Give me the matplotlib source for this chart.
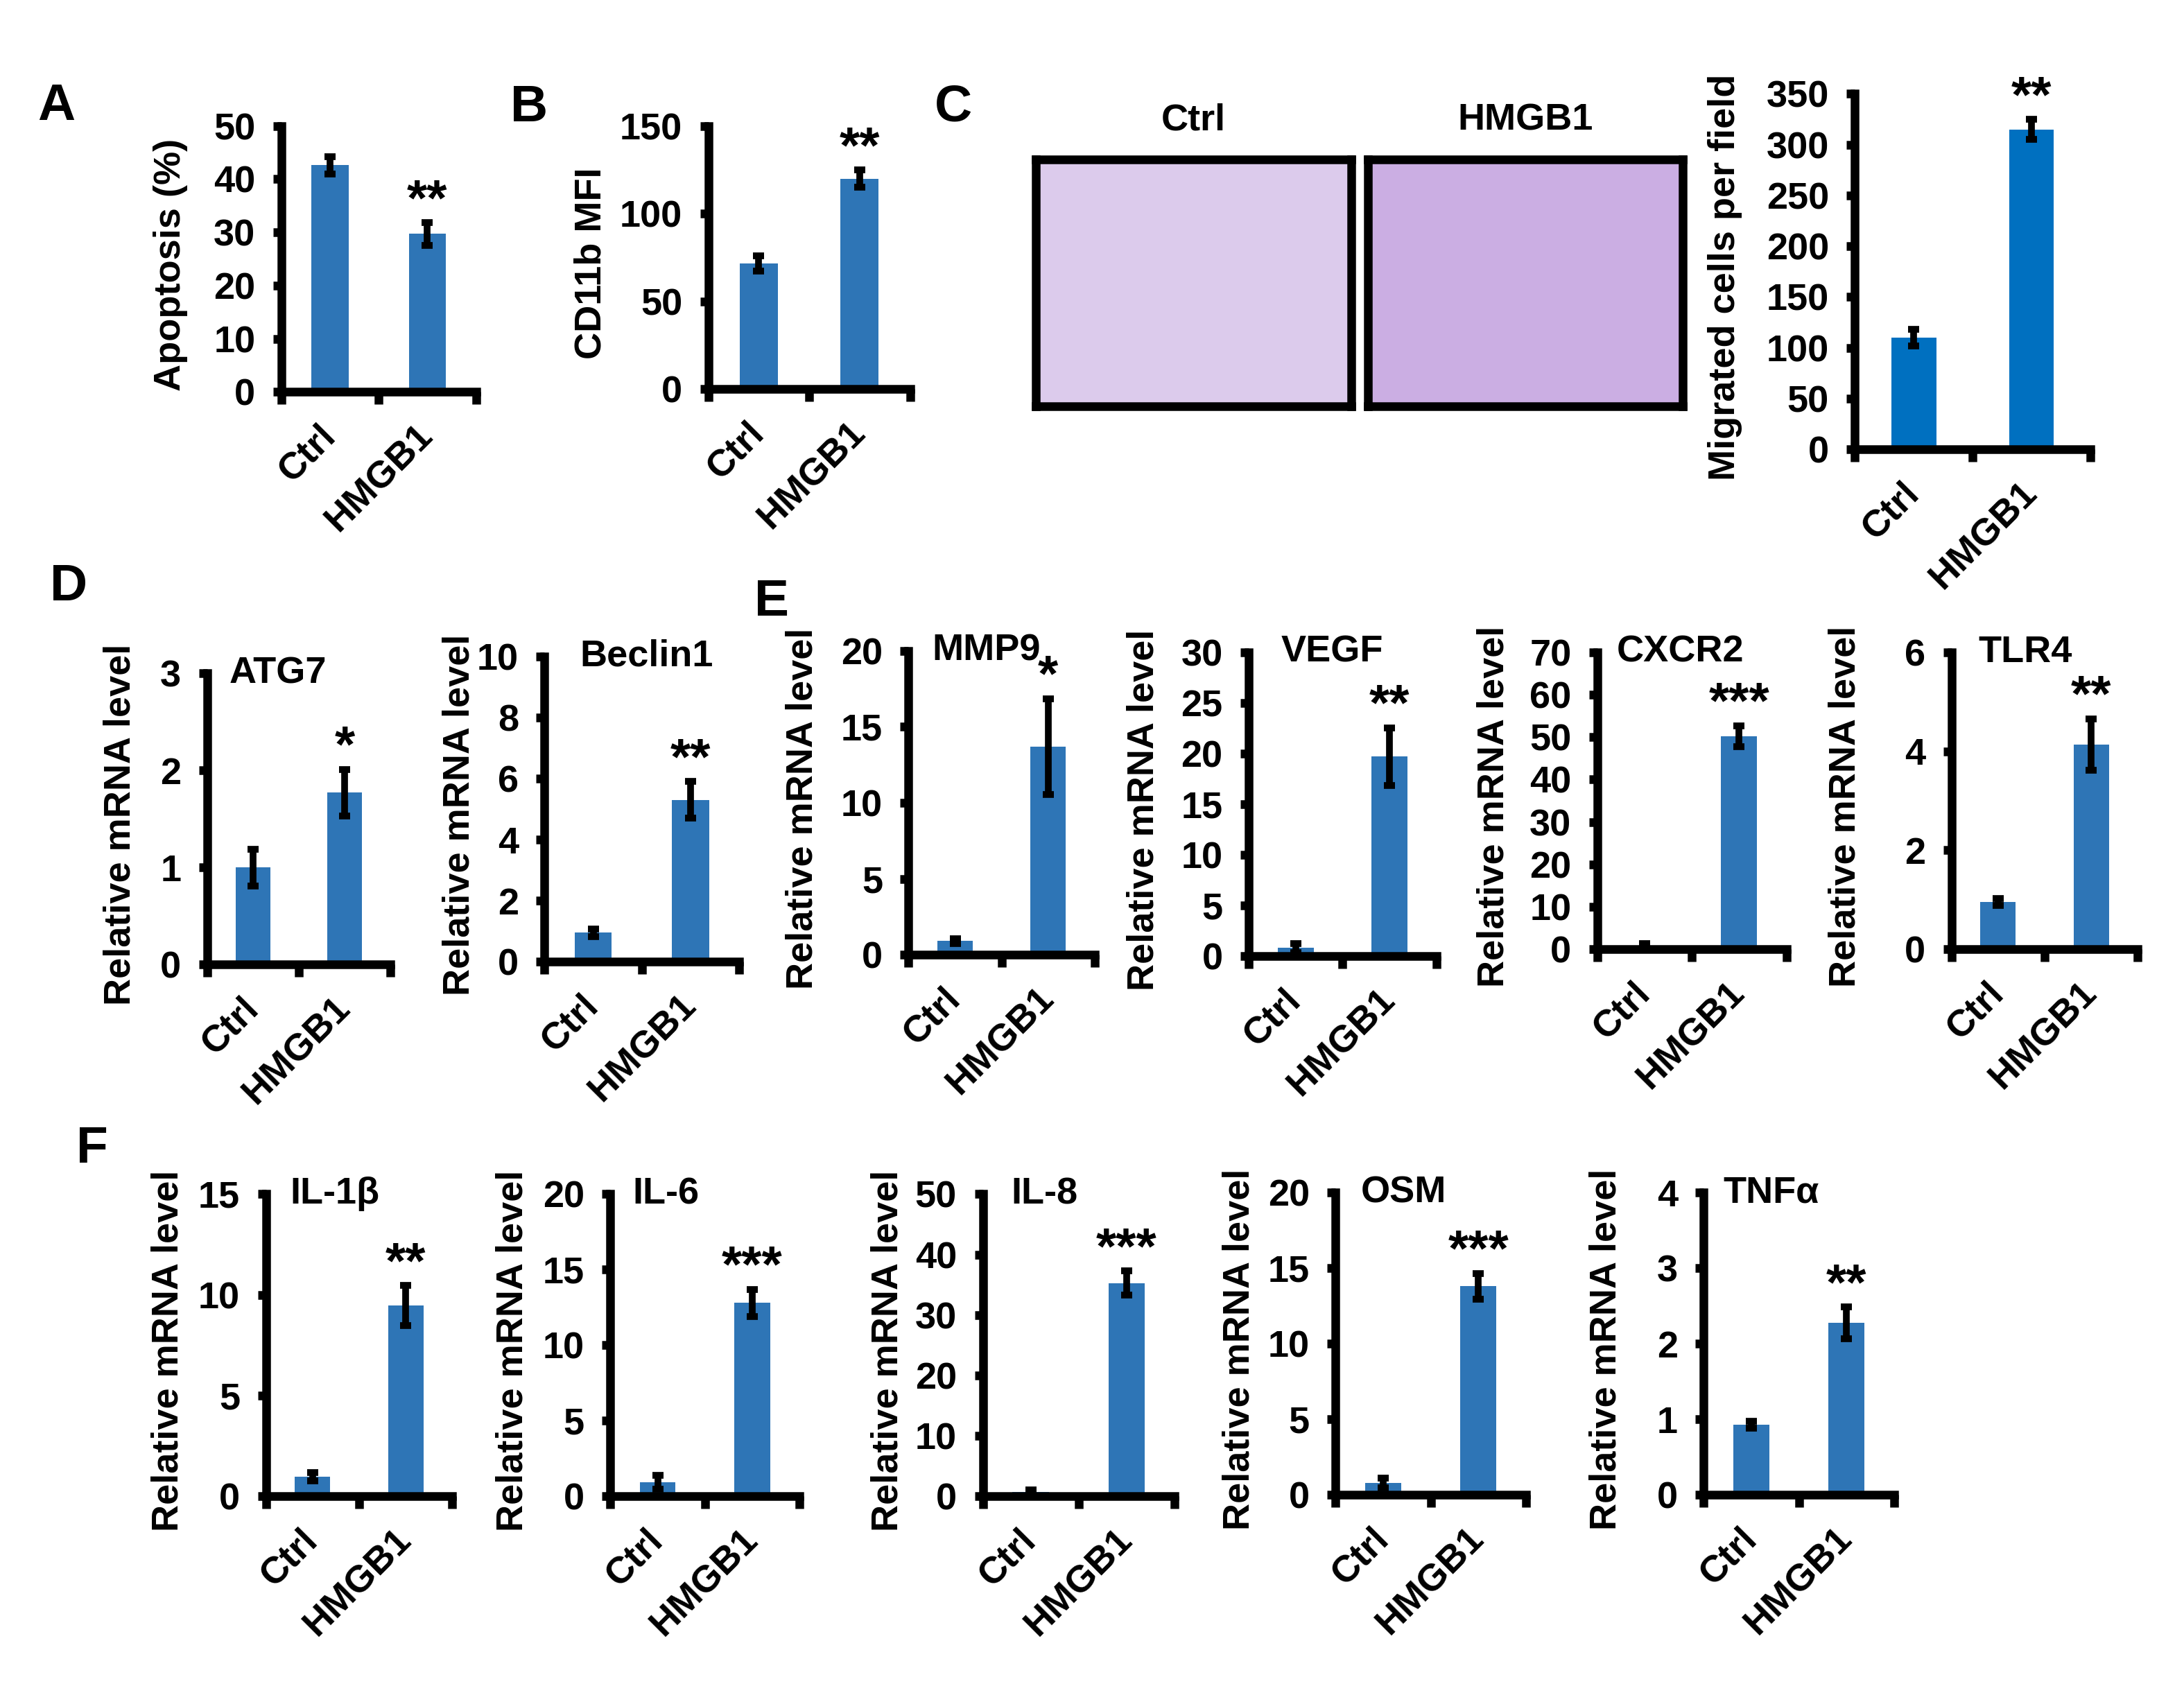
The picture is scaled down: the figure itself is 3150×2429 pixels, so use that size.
import numpy as np
import matplotlib
matplotlib.use('Agg')
import matplotlib.pyplot as plt

plt.rcParams['font.family'] = ['Liberation Sans', 'DejaVu Sans']
plt.rcParams['font.weight'] = 'bold'

groups = ['Ctrl', 'HMGB1']

# Panel A-C
apoptosis = [42.6, 29.7]
apoptosis_err = [1.6, 2.1]
cd11b = [71.6, 120]
cd11b_err = [4.3, 4.8]
migrated = [110, 315]
migrated_err = [8, 10]

# Panels D-F: relative mRNA levels
genes = ['ATG7', 'Beclin1', 'MMP9', 'VEGF', 'CXCR2', 'TLR4',
         'IL-1β', 'IL-6', 'IL-8', 'OSM', 'TNFα']
ctrl_mean = [1.0, 0.95, 0.9, 0.8, 0.8, 0.95, 0.97, 0.93, 0.7, 0.8, 0.93]
ctrl_err = [0.19, 0.13, 0.15, 0.45, 0.5, 0.07, 0.2, 0.45, 0.4, 0.3, 0.05]
hmgb1_mean = [1.77, 5.3, 13.7, 19.7, 50.2, 4.14, 9.47, 12.8, 35.3, 13.8, 2.28]
hmgb1_err = [0.24, 0.6, 3.15, 2.85, 2.5, 0.52, 1.0, 0.9, 2.0, 0.87, 0.21]
stars = ['*', '**', '*', '**', '***', '**', '**', '***', '***', '***', '**']
ymax = [3, 10, 20, 30, 70, 6, 15, 20, 50, 20, 4]
ystep = [1, 2, 5, 5, 10, 2, 5, 5, 10, 5, 1]

# layout, in pixels of a 1560 x 1203 sheet: left, right, top, zero
W, H = 1560.0, 1203.0
gene_boxes = [(148, 279, 481, 689), (389, 528, 469, 687),
              (649, 782, 465, 682), (892, 1026, 466, 683),
              (1141, 1276, 466, 678), (1394, 1527, 466, 678),
              (190, 323, 853, 1069), (436, 571, 853, 1069),
              (702, 839, 853, 1069), (954, 1090, 852, 1068),
              (1217, 1353, 852, 1068)]
gene_label_x = [86, 328, 573, 817, 1067, 1318, 120, 366, 634, 885, 1147]
gene_title_dx = [16, 25, 17, 23, 14, 19, 17, 16, 20, 18, 14]

bar_blue = '#2E75B6'
bar_blue_c = '#0070C0'
LW = 4.5

fig = plt.figure(figsize=(15.75, 12.145), dpi=200)


def bar_panel(box, means, errs, top, step, ylabel, label_x, star, color=bar_blue):
    left, right, ytop, zero = box
    ax = fig.add_axes([left / W, 1 - zero / H, (right - left) / W, (zero - ytop) / H])
    x = [0.5, 1.5]
    ax.bar(x, means, width=0.38, color=color, zorder=2)
    ax.errorbar(x, means, yerr=errs, fmt='none', ecolor='black',
                elinewidth=3.5, capsize=3, capthick=3.5, zorder=3)
    ax.set_xlim(0, 2)
    ax.set_ylim(0, top)
    ax.set_yticks(np.arange(0, top + step / 2, step))
    ax.set_xticks(x)
    ax.set_xticklabels(groups, rotation=45, ha='right', va='center',
                       rotation_mode='anchor')
    ax.set_xticks([0, 1, 2], minor=True)
    ax.tick_params(axis='x', which='major', length=0, pad=20, labelsize=19.5)
    ax.tick_params(axis='x', which='minor', length=6.5, width=LW, direction='out')
    ax.tick_params(axis='y', length=4.5, width=LW, pad=9, labelsize=19.5)
    for s in ['top', 'right']:
        ax.spines[s].set_visible(False)
    for s in ['left', 'bottom']:
        ax.spines[s].set_linewidth(LW)
    ax.set_ylabel(ylabel, fontsize=19.5, fontweight='bold', va='center')
    ax.yaxis.set_label_coords(label_x / W, 1 - ((ytop + zero) / 2 + 4) / H,
                              transform=fig.transFigure)
    ax.annotate(star, xy=(1.5, means[1] + errs[1]), xytext=(0, 11),
                textcoords='offset points', ha='center', va='center',
                fontsize=27, fontweight='bold')
    return ax


# A, B, C bar charts
bar_panel((201, 340, 90, 280), apoptosis, apoptosis_err, 50, 10,
          'Apoptosis (%)', 122, '**')
bar_panel((506, 650, 90, 278), cd11b, cd11b_err, 150, 50,
          'CD11b MFI', 422, '**')
bar_panel((1325, 1493, 67, 321), migrated, migrated_err, 350, 50,
          'Migrated cells per field', 1232, '**', color=bar_blue_c)

# C: migration assay images (shown as plain stained fields)
for (l, r, name, shade) in [(740, 965, 'Ctrl', '#DCCBEC'), (977, 1202, 'HMGB1', '#CBAEE3')]:
    im = fig.add_axes([l / W, 1 - 290 / H, (r - l) / W, (290 - 114) / H])
    im.set_facecolor(shade)
    im.set_xticks([])
    im.set_yticks([])
    for s in im.spines.values():
        s.set_linewidth(LW)
    fig.text((l + r) / 2 / W, 1 - 86 / H, name, fontsize=19.5, fontweight='bold',
             ha='center', va='center')

# D, E, F gene panels
for i, g in enumerate(genes):
    ax = bar_panel(gene_boxes[i], [ctrl_mean[i], hmgb1_mean[i]],
                   [ctrl_err[i], hmgb1_err[i]], ymax[i], ystep[i],
                   'Relative mRNA level', gene_label_x[i], stars[i])
    left, right = gene_boxes[i][0], gene_boxes[i][1]
    ax.text(gene_title_dx[i] / (right - left), 1.0, g, transform=ax.transAxes,
            fontsize=19.5, fontweight='bold', ha='left', va='center')

# panel letters
for letter, lx, ly in [('A', 40, 76), ('B', 378, 77), ('C', 681, 77),
                       ('D', 49, 419), ('E', 551, 430), ('F', 66, 821)]:
    fig.text(lx / W, 1 - ly / H, letter, fontsize=27, fontweight='bold',
             ha='center', va='center')

fig.savefig('out.png', dpi=200)
